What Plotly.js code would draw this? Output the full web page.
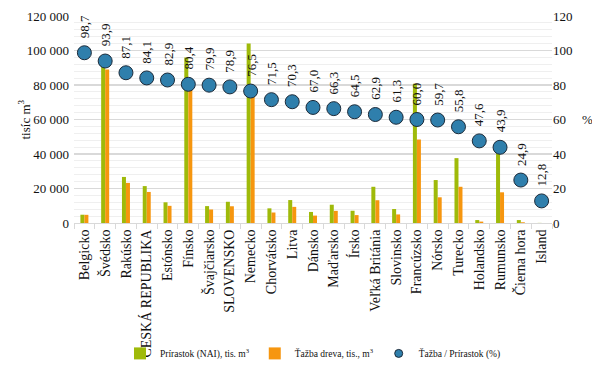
<!DOCTYPE html>
<html>
<head>
<meta charset="utf-8">
<script src="https://cdn.plot.ly/plotly-3.0.1.min.js"></script>
<style>
  html, body { margin: 0; padding: 0; background: #fff; }
  #chart { width: 592px; height: 371px; }
</style>
</head>
<body>
<div id="chart"></div>
<script>
// Countries, ordered by felling-to-increment ratio
const countries = [
  'Belgicko', 'Švédsko', 'Rakúsko', 'ČESKÁ REPUBLIKA', 'Estónsko', 'Fínsko',
  'Švajčiarsko', 'SLOVENSKO', 'Nemecko', 'Chorvátsko', 'Litva', 'Dánsko',
  'Maďarsko', 'Írsko', 'Veľká Británia', 'Slovinsko', 'Francúzsko', 'Nórsko',
  'Turecko', 'Holandsko', 'Rumunsko', 'Čierna hora', 'Island'
];

// Net annual increment, thousand m3
const increment = [
  4800, 94800, 26700, 21400, 12000, 96000,
  9800, 12300, 104000, 8500, 13300, 6400,
  10600, 7100, 21000, 8100, 80700, 24900,
  37600, 1700, 40500, 1700, 60
];

// Fellings, thousand m3
const fellings = [
  4740, 89000, 23250, 18000, 9950, 77200,
  7830, 9700, 79500, 6080, 9350, 4290,
  7030, 4580, 13200, 4970, 48400, 14900,
  21000, 810, 17800, 420, 8
];

// Fellings / increment, %
const ratio = [
  98.7, 93.9, 87.1, 84.1, 82.9, 80.4, 79.9, 78.9, 76.5, 71.5, 70.3, 67.0,
  66.3, 64.5, 62.9, 61.3, 60.0, 59.7, 55.8, 47.6, 43.9, 24.9, 12.8
];

const FONT = '"Liberation Serif", "Times New Roman", serif';
const INK = '#111';
const DOT = '#2f7fac';
const DOT_EDGE = '#1c2b3a';

const traces = [
  {
    type: 'bar', name: 'Prírastok (NAI), tis. m<sup>3</sup>',
    x: countries, y: increment,
    marker: { color: '#9fba0a' }
  },
  {
    type: 'bar', name: 'Ťažba dreva, tis., m<sup>3</sup>',
    x: countries, y: fellings,
    marker: { color: '#f6960f' }
  },
  {
    type: 'scatter', mode: 'markers', name: 'Ťažba / Prírastok (%)',
    x: countries, y: ratio, yaxis: 'y2', showlegend: false,
    marker: { size: 14, color: DOT, line: { color: DOT_EDGE, width: 1 } }
  },
  // smaller symbol for the legend entry of the ratio series
  {
    type: 'scatter', mode: 'markers', name: 'Ťažba / Prírastok (%)',
    x: [null], y: [null], yaxis: 'y2', hoverinfo: 'skip',
    marker: { size: 8, color: DOT, line: { color: DOT_EDGE, width: 1 } }
  }
];

// Rotated value labels above each ratio marker
const annotations = ratio.map((v, i) => ({
  x: countries[i], y: v, xref: 'x', yref: 'y2',
  text: v.toFixed(1).replace('.', ','),
  textangle: -90, showarrow: false,
  xanchor: 'center', yanchor: 'middle', yshift: 26,
  font: { family: FONT, size: 13, color: INK }
}));

// Axis titles
annotations.push({
  x: 0, xref: 'paper', xanchor: 'center', xshift: -50,
  y: 0.5, yref: 'paper', yanchor: 'middle',
  text: 'tisíc m<sup>3</sup>', textangle: -90, showarrow: false,
  font: { family: FONT, size: 13, color: INK }
});
annotations.push({
  x: 1, xref: 'paper', xanchor: 'left', xshift: 28,
  y: 0.5, yref: 'paper', yanchor: 'middle',
  text: '%', showarrow: false,
  font: { family: FONT, size: 13, color: INK }
});

const layout = {
  width: 592, height: 371,
  margin: { l: 74, r: 40, t: 16, b: 148, autoexpand: false },
  paper_bgcolor: '#fff', plot_bgcolor: '#fff',
  font: { family: FONT, size: 13, color: INK },
  separators: ', ',
  barmode: 'group', bargap: 0.615, bargroupgap: 0,
  showlegend: true,
  legend: {
    orientation: 'h', x: 0.5, xanchor: 'center', y: -0.63, yanchor: 'middle',
    bgcolor: 'rgba(0,0,0,0)',
    font: { family: FONT, size: 9.5, color: INK },
    itemwidth: 30, traceorder: 'normal'
  },
  xaxis: {
    type: 'category', tickangle: -90, automargin: false,
    range: [-0.5, countries.length - 0.5],
    showline: true, linecolor: '#d9d9d9', linewidth: 1,
    ticks: 'outside', tickson: 'boundaries', ticklen: 5, tickcolor: '#d9d9d9',
    showgrid: false,
    tickfont: { family: FONT, size: 14, color: INK }
  },
  yaxis: {
    range: [0, 120000], dtick: 20000, tickformat: ',d', automargin: false,
    showline: false, zeroline: false,
    gridcolor: '#d9d9d9', gridwidth: 1.3,
    minor: { dtick: 4000, showgrid: true, gridcolor: '#efefef', gridwidth: 1 },
    ticklabelstandoff: 4,
    tickfont: { family: FONT, size: 13, color: INK }
  },
  yaxis2: {
    overlaying: 'y', side: 'right', automargin: false,
    range: [0, 120], dtick: 20,
    showgrid: false, showline: false, zeroline: false,
    tickfont: { family: FONT, size: 13, color: INK }
  },
  annotations: annotations
};

Plotly.newPlot('chart', traces, layout, { displayModeBar: false, staticPlot: true });
</script>
</body>
</html>
